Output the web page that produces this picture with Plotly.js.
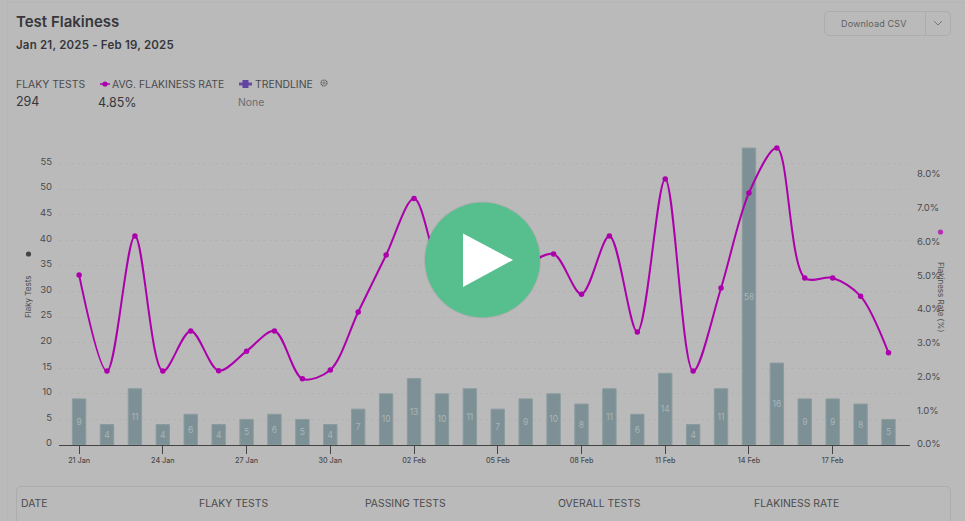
<!DOCTYPE html>
<html>
<head>
<meta charset="utf-8">
<script src="https://cdn.plot.ly/plotly-3.0.1.min.js"></script>
<style>
html,body{margin:0;padding:0;width:965px;height:521px;overflow:hidden;background:#bababa;font-family:Inter,"Noto Sans",sans-serif;color:#3e3f41}
#chart{position:absolute;left:0;top:0;width:965px;height:521px}
.t{position:absolute;white-space:nowrap;line-height:1}
#edge{position:absolute;left:7px;top:2px;width:965px;height:600px;border-left:1px solid #b6b6b6;border-top:1px solid #b6b6b6}
#btn{position:absolute;left:824px;top:11px;width:125px;height:23px;border:1px solid #adadad;border-radius:5px}
#btn i{position:absolute;left:100px;top:0;height:23px;border-left:1px solid #adadad}
#tbl{position:absolute;left:16px;top:486px;width:933px;height:60px;border:1px solid #adadad;border-radius:5px}
svg.o{position:absolute;left:0;top:0;pointer-events:none}
</style>
</head>
<body>
<div id="edge"></div>
<div id="chart"></div>
<div class="t" style="left:16px;top:14px;font-size:15px;font-weight:600;color:#36373a">Test Flakiness</div>
<div class="t" style="left:16px;top:40px;font-size:11.5px;font-weight:600;letter-spacing:.2px;color:#36373a">Jan 21, 2025 - Feb 19, 2025</div>
<div class="t" style="left:16px;top:80px;font-size:10.4px;color:#4a4b4d">FLAKY TESTS</div>
<div class="t" style="left:16px;top:96px;font-size:12.5px;color:#36373a">294</div>
<div class="t" style="left:112px;top:80px;font-size:10.4px;color:#4a4b4d">AVG. FLAKINESS RATE</div>
<div class="t" style="left:98px;top:97px;font-size:12.5px;color:#36373a">4.85%</div>
<div class="t" style="left:255px;top:80px;font-size:10.4px;color:#4a4b4d">TRENDLINE</div>
<div class="t" style="left:238px;top:98px;font-size:10.4px;color:#6b6c70">None</div>
<div id="btn"><i></i></div>
<div class="t" style="left:841px;top:18.5px;font-size:9px;color:#5f5f5f;letter-spacing:.15px">Download CSV</div>
<div id="tbl"></div>
<div class="t" style="left:21px;top:499px;font-size:10.4px;color:#4a4b4d">DATE</div>
<div class="t" style="left:199px;top:499px;font-size:10.4px;color:#4a4b4d">FLAKY TESTS</div>
<div class="t" style="left:365px;top:499px;font-size:10.4px;color:#4a4b4d">PASSING TESTS</div>
<div class="t" style="left:558px;top:499px;font-size:10.4px;color:#4a4b4d">OVERALL TESTS</div>
<div class="t" style="left:754px;top:499px;font-size:10.4px;color:#4a4b4d">FLAKINESS RATE</div>
<svg class="o" width="965" height="521">
  <line x1="100" y1="84" x2="110" y2="84" stroke="#ab00ab" stroke-width="1.5"/><circle cx="105" cy="84" r="2.6" fill="#ab00ab"/>
  <rect x="239" y="82.5" width="13" height="3" fill="#6a4aa6"/><rect x="242.5" y="80" width="6" height="8" fill="#5f45a0"/>
  <circle cx="324" cy="83" r="3" fill="none" stroke="#5a5a5a" stroke-width="1.2" stroke-dasharray="1.2 .6"/><circle cx="324" cy="83" r="1.1" fill="none" stroke="#5a5a5a" stroke-width=".7"/>
  <polyline points="934,21 938,25 942,21" fill="none" stroke="#777" stroke-width="1"/>
  <circle cx="28.5" cy="254" r="2.6" fill="#444"/>
  <circle cx="940.5" cy="232" r="2.6" fill="#b52fb5"/>
  <circle cx="482.5" cy="260" r="58.5" fill="#000" opacity=".06"/>
  <circle cx="482.5" cy="260" r="57.5" fill="#57bf8e"/>
  <polygon points="463,233.5 513,260 463,287" fill="#fff"/>
</svg>
<script>
var dates = ["21 Jan","22 Jan","23 Jan","24 Jan","25 Jan","26 Jan","27 Jan","28 Jan","29 Jan","30 Jan","31 Jan","01 Feb","02 Feb","03 Feb","04 Feb","05 Feb","06 Feb","07 Feb","08 Feb","09 Feb","10 Feb","11 Feb","12 Feb","13 Feb","14 Feb","15 Feb","16 Feb","17 Feb","18 Feb","19 Feb"];
var flakyTests = [9,4,11,4,6,4,5,6,5,4,7,10,13,10,11,7,9,10,8,11,6,14,4,11,58,16,9,9,8,5];
var flakinessRate = [5.04,2.19,6.19,2.19,3.38,2.2,2.78,3.38,1.96,2.22,3.94,5.63,7.3,5.0,4.2,4.5,5.3,5.66,4.47,6.19,3.35,7.88,2.19,4.65,7.47,8.8,4.95,4.95,4.41,2.73];
var xTicks = ["21 Jan","24 Jan","27 Jan","30 Jan","02 Feb","05 Feb","08 Feb","11 Feb","14 Feb","17 Feb"];
var leftTicks = [0,5,10,15,20,25,30,35,40,45,50,55];
var rightTicks = [0,1,2,3,4,5,6,7,8];

var tickFont = {family:'Inter, "Noto Sans", sans-serif', size:9.5, color:'#4a4b4d'};
var titleFont = {family:'Inter, sans-serif', size:8, color:'#4a4b4d'};
Plotly.newPlot('chart', [
  {type:'bar', name:'Flaky Tests', x:dates, y:flakyTests, width:0.48,
   marker:{color:'#7d9095', line:{color:'#8b9c9f', width:1}},
   text:flakyTests.map(String), textposition:'inside', insidetextanchor:'middle', textangle:0, constraintext:'none',
   insidetextfont:{family:'Inter, sans-serif', size:8.5, color:'#a9b6b8'}, cliponaxis:false},
  {type:'scatter', mode:'lines+markers', name:'Avg. Flakiness Rate', x:dates, y:flakinessRate, yaxis:'y2',
   line:{color:'#ab00ab', width:2, shape:'spline', smoothing:0.9},
   marker:{color:'#ab00ab', size:5.5}, cliponaxis:false}
], {
  width:965, height:521, showlegend:false, hovermode:false,
  paper_bgcolor:'rgba(0,0,0,0)', plot_bgcolor:'rgba(0,0,0,0)',
  margin:{l:59, r:55, t:138, b:76},
  xaxis:{type:'category', range:[-0.72,29.77], tickmode:'array', tickvals:xTicks, ticktext:xTicks,
    ticks:'outside', ticklen:8, tickcolor:'#444', tickwidth:1, showline:true, linecolor:'#444', linewidth:1,
    showgrid:false, zeroline:false, tickangle:0, fixedrange:true,
    tickfont:{family:'Inter, "Noto Sans", sans-serif', size:7.2, color:'#4a4b4d', weight:500}},
  yaxis:{range:[0,59.96], tickmode:'array', tickvals:leftTicks, showline:false, ticks:'', zeroline:false,
    showgrid:true, gridcolor:'#b3b3b3', griddash:'dot', gridwidth:1, tickfont:tickFont, ticklabelstandoff:6, ticklabelshift:-2},
  yaxis2:{overlaying:'y', side:'right', range:[0,9.096], tickmode:'array', tickvals:rightTicks,
    ticktext:rightTicks.map(function(v){return v.toFixed(1)+'%';}), showline:false, ticks:'', zeroline:false, showgrid:false,
    tickfont:tickFont, ticklabelstandoff:6, ticklabelshift:-1},
  annotations:[
    {text:'Flaky Tests', xref:'paper', yref:'paper', x:(28-59)/851, y:(445-297)/307, textangle:-90, showarrow:false, font:titleFont, xanchor:'center', yanchor:'middle'},
    {text:'Flakiness Rate (%)', xref:'paper', yref:'paper', x:(941-59)/851, y:(445-297)/307, textangle:90, showarrow:false, font:titleFont, xanchor:'center', yanchor:'middle'}
  ]
}, {staticPlot:true, displayModeBar:false});
</script>
</body>
</html>
